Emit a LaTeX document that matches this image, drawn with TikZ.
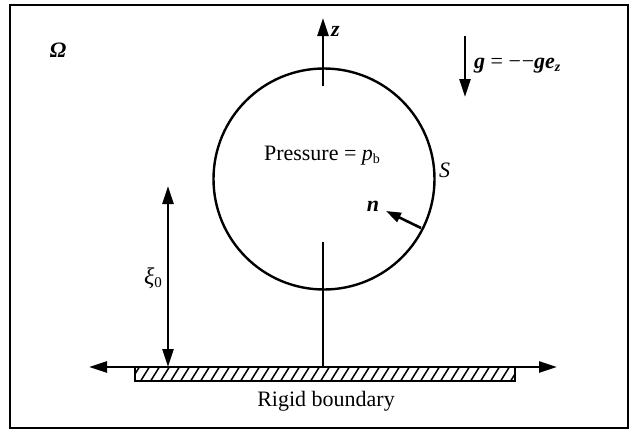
\documentclass[tikz,border=0pt]{standalone}
\usepackage{fontspec}
\setmainfont{Liberation Serif}
\usetikzlibrary{arrows.meta}
\tikzset{
  ln/.style={line width=2.4pt},
  hd/.tip={Triangle[length=18pt,width=11pt]},
  tip/.style={-{Triangle[length=18pt,width=11pt]}},
  lbl/.style={inner sep=0pt,font=\fontsize{22}{25}\selectfont},
}
\begin{document}
\begin{tikzpicture}[x=1pt,y=-1pt]
\useasboundingbox (0,0) rectangle (630,431);
\draw[line width=2pt] (10,5) rectangle (628,428);
% bubble
\node[circle,draw,ln,minimum size=221pt,inner sep=0pt] (bubble) at (324,179) {};
\node[lbl] (press) at (322,156) {Pressure = \textit{p}\raisebox{-0.25ex}{\fontsize{14}{15}\selectfont b}};
\node[lbl,anchor=west] (S) at (439,170) {\textit{S}};
% z axis
\coordinate (ztop) at (323,18);
\coordinate (zin) at (323,86);
\draw[ln,tip] (zin) -- (ztop);
\node[lbl,anchor=west] (zl) at (331,31) {\textbf{\textit{z}}};
% gravity
\coordinate (g1) at (465,36);
\coordinate (g2) at (465,97);
\draw[ln,tip] (g1) -- (g2);
\node[lbl,anchor=base west] (gl) at (474,68) {\textbf{\textit{g}} = −\kern0.8pt−\textbf{\textit{g}}\textbf{\textit{e}}\raisebox{-0.3ex}{\fontsize{14}{15}\selectfont\textbf{\textit{z}}}};
% omega
\node[lbl] (om) at (58,50) {\textbf{\textit{Ω}}};
% normal
\coordinate (ntail) at (421,228);
\coordinate (nhead) at (386,211);
\draw[line width=2.6pt,-{Triangle[length=15pt,width=10pt]}] (ntail) -- (nhead);
\node[lbl] (nl) at (373,206) {\textbf{\textit{n}}};
% lower stem
\coordinate (stem) at (323,242);
\coordinate (base) at (323,367);
\draw[ln] (stem) -- (base);
% boundary
\coordinate (bl) at (89,367);
\coordinate (br) at (557,367);
\draw[ln,hd-hd] (bl) -- (br);
\begin{scope}
\clip (135,367) rectangle (515,381);
\foreach \i in {0,...,40} {
  \draw[line width=1.5pt] ({130+\i*10},382) -- ({140+\i*10},366);
}
\end{scope}
\draw[ln] (135,367) rectangle (515,381);
\node[lbl] (rb) at (326,401) {Rigid boundary};
% xi0
\coordinate (xt) at (168,186);
\coordinate (xb) at (168,367);
\draw[ln,hd-hd] (xt) -- (xb);
\node[lbl,font=\fontsize{24}{26}\selectfont] (xl) at (153,278) {\textit{ξ}\raisebox{-0.3ex}{\fontsize{15}{16}\selectfont 0}};
\end{tikzpicture}
\end{document}
